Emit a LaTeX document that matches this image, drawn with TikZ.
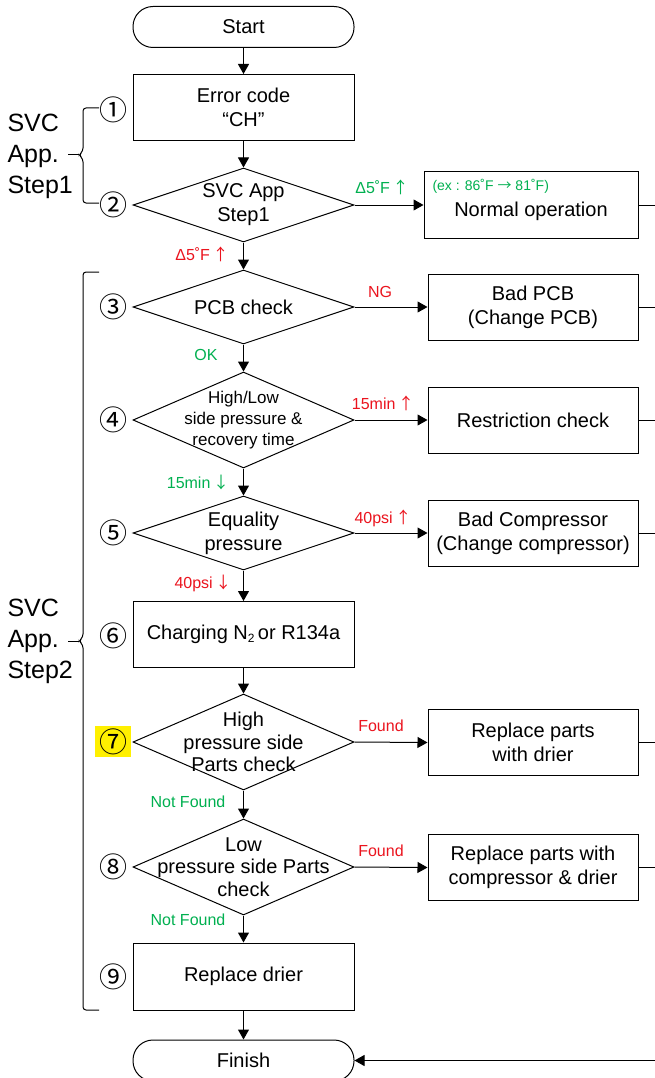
\documentclass[tikz,border=0pt]{standalone}
\usepackage{fontspec}
\setmainfont{Liberation Sans}
\newfontfamily\cjk{Noto Sans CJK JP}
\usetikzlibrary{shapes.geometric,arrows.meta}
\definecolor{okgreen}{RGB}{0,176,80}
\definecolor{ngred}{RGB}{235,20,30}
\definecolor{hl}{RGB}{255,240,0}
\newcommand{\upar}{{\cjk ↑}}
\newcommand{\dnar}{{\cjk ↓}}
\begin{document}
\begin{tikzpicture}[x=1pt,y=-1pt,
  line width=1pt,
  every node/.style={font=\fontsize{20}{24}\selectfont, align=center},
  boxn/.style={draw, rectangle, minimum width=221, minimum height=66, inner sep=0},
  sidebox/.style={draw, rectangle, minimum width=210, minimum height=66, inner sep=0},
  term/.style={draw, rectangle, rounded corners=20, minimum width=221, minimum height=41, inner sep=0},
  dia/.style={draw, diamond, minimum width=221, inner sep=0},
  arr/.style={-{Triangle[width=11pt,length=10pt]}},
  glab/.style={text=okgreen, font=\fontsize{16}{18}\selectfont, inner sep=0},
  rlab/.style={text=ngred, font=\fontsize{16}{18}\selectfont, inner sep=0},
  num/.style={font=\cjk\fontsize{28}{28}\selectfont, inner sep=0},
  svc/.style={font=\fontsize{25}{31}\selectfont, align=left, inner sep=0, anchor=west},
  brace/.style={line width=1pt, rounded corners=3pt},
]
\clip (0,0) rectangle (655,1078);
\fill[white] (0,0) rectangle (655,1078);

% main column
\node[term] (start) at (243.5,27) {Start};
\node[boxn] (s1) at (243.5,107.5) {Error code\\“CH”};
\node[dia, minimum height=74] (s2) at (243.5,205) {};
\node (s2t) at (s2.center) {SVC App\\Step1};
\node[dia, minimum height=74] (s3) at (243.5,307) {};
\node (s3t) at (s3.center) {PCB check};
\node[dia, minimum height=96] (s4) at (243.5,420) {};
\node[font=\fontsize{17}{21}\selectfont] (s4t) at (s4.center) {High/Low\\side pressure \&\\recovery time};
\node[dia, minimum height=74] (s5) at (243.5,533) {};
\node (s5t) at (s5.center) {Equality\\pressure};
\node[boxn] (s6) at (243.5,634.5) {Charging N{\fontsize{12}{12}\selectfont\raisebox{-3pt}{2}}\,or R134a};
\node[dia, minimum height=96] (s7) at (243.5,742) {};
\node[font=\fontsize{20}{22.5}\selectfont] (s7t) at (s7.center) {High\\pressure side\\Parts check};
\node[dia, minimum height=96] (s8) at (243.5,867) {};
\node[font=\fontsize{20}{22.5}\selectfont] (s8t) at (s8.center) {Low\\pressure side Parts\\check};
\node[boxn, minimum height=67] (s9) at (243.5,976.5) {Replace drier};
\node[term] (finish) at (243.5,1060.5) {Finish};

% right column
\node[sidebox, minimum width=214] (normal) at (531,205) {};
\node (normalt) at (531,211) {Normal operation};
\node[text=okgreen, font=\fontsize{14}{16}\selectfont, inner sep=0, anchor=west] (ex) at (432,186) {(ex : 86˚F {\cjk →} 81˚F)};
\node[sidebox] (badpcb) at (533,307) {Bad PCB\\(Change PCB)};
\node[sidebox] (restr) at (533,420) {Restriction check};
\node[sidebox] (badcomp) at (533,533) {Bad Compressor\\(Change compressor)};
\node[sidebox] (rep1) at (533,742.5) {Replace parts\\with drier};
\node[sidebox] (rep2) at (533,867.5) {Replace parts with\\compressor \& drier};

\coordinate (r1) at (655,205);
\coordinate (r2) at (655,307);
\coordinate (r3) at (655,420);
\coordinate (r4) at (655,533);
\coordinate (r5) at (655,742.5);
\coordinate (r6) at (655,867.5);
\coordinate (rf) at (655,1060.5);

% connectors
\draw[arr] (start) -- (s1);
\draw[arr] (s1) -- (s2.north);
\draw[arr] (s2.east) -- (normal.west);
\draw[arr] (s2.south) -- (s3.north);
\draw[arr] (s3.east) -- (badpcb.west);
\draw[arr] (s3.south) -- (s4.north);
\draw[arr] (s4.east) -- (restr.west);
\draw[arr] (s4.south) -- (s5.north);
\draw[arr] (s5.east) -- (badcomp.west);
\draw[arr] (s5.south) -- (s6.north);
\draw[arr] (s6.south) -- (s7.north);
\draw[arr] (s7.east) -- (rep1.west);
\draw[arr] (s7.south) -- (s8.north);
\draw[arr] (s8.east) -- (rep2.west);
\draw[arr] (s8.south) -- (s9.north);
\draw[arr] (s9.south) -- (finish.north);
\draw (normal.east) -- (r1);
\draw (badpcb.east) -- (r2);
\draw (restr.east) -- (r3);
\draw (badcomp.east) -- (r4);
\draw (rep1.east) -- (r5);
\draw (rep2.east) -- (r6);
\draw[arr] (rf) -- (finish.east);

% labels
\node[glab] (l1) at (382,187) {Δ5˚F\,\upar};
\node[rlab] (l2) at (202,254) {Δ5˚F\,\upar};
\node[rlab] (l3) at (380,292) {NG};
\node[glab] (l4) at (206,355) {OK};
\node[rlab] (l5) at (383,403) {15min\,\upar};
\node[glab] (l6) at (198,482) {15min\,\dnar};
\node[rlab] (l7) at (383,518) {40psi\,\upar};
\node[rlab] (l8) at (203,583) {40psi\,\dnar};
\node[rlab] (l9) at (381,726) {Found};
\node[glab] (l10) at (188,802) {Not Found};
\node[rlab] (l11) at (381,851) {Found};
\node[glab] (l12) at (188,920) {Not Found};

% step numbers
\fill[hl] (95,726) rectangle (131,757);
\node[num] (n1) at (113,110) {①};
\node[num] (n2) at (113,205) {②};
\node[num] (n3) at (113,307) {③};
\node[num] (n4) at (113,420) {④};
\node[num] (n5) at (113,533) {⑤};
\node[num] (n6) at (113,636) {⑥};
\node[num] (n7) at (113,742) {⑦};
\node[num] (n8) at (113,867) {⑧};
\node[num] (n9) at (113,977) {⑨};

% braces
\node[svc] (g1) at (7,156) {SVC\\App.\\Step1};
\node[svc] (g2) at (7,641) {SVC\\App.\\Step2};
\draw[brace] (99,108) -- (83,108) -- (83,151) -- (79,155) -- (83,159) -- (83,203) -- (99,203);
\draw (68,155) -- (79,155);
\draw[brace] (99,272) -- (83,272) -- (83,637) -- (79,641) -- (83,645) -- (83,1010) -- (99,1010);
\draw (68,641) -- (79,641);
\end{tikzpicture}
\end{document}
